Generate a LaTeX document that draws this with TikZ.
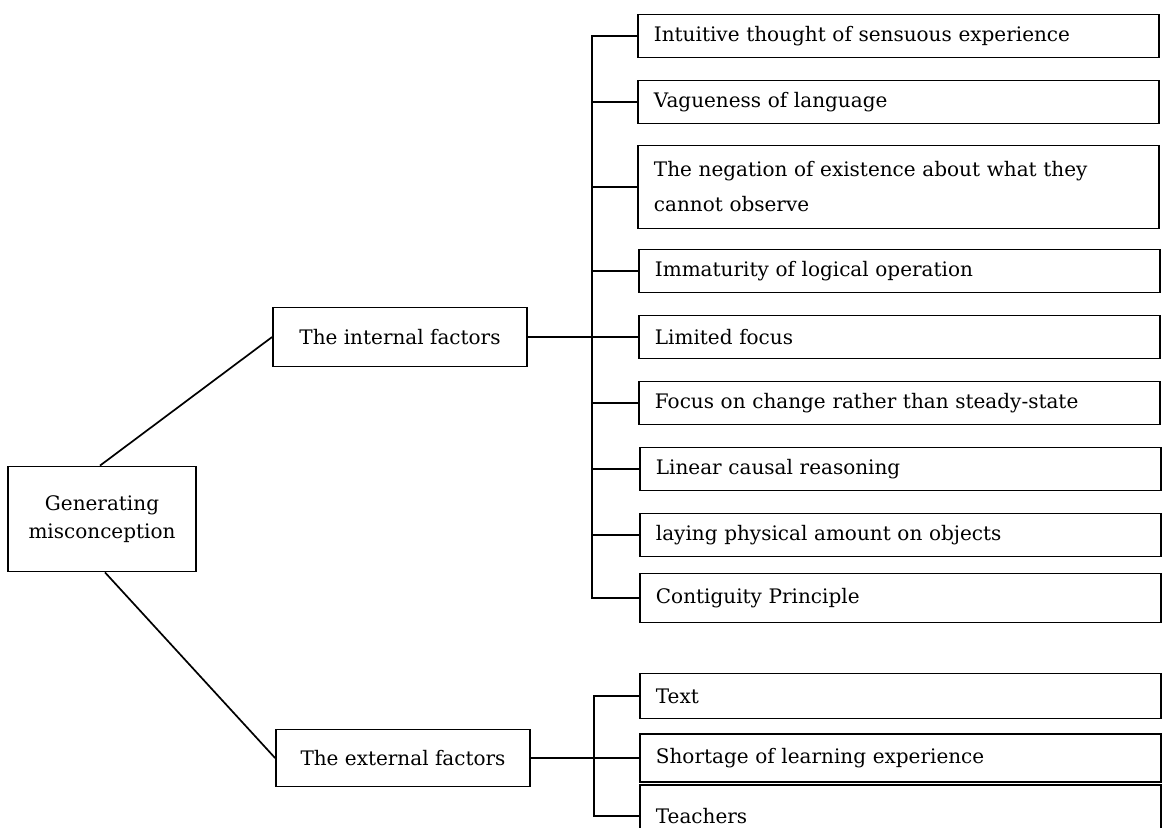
\documentclass[tikz,border=0pt]{standalone}
\usepackage{fontspec}
\setmainfont{DejaVu Serif}
\begin{document}
\begin{tikzpicture}[x=1pt,y=-1pt,
  every node/.style={font=\fontsize{20}{35}\selectfont},
  box/.style={draw, line width=1.8pt, inner sep=0pt},
  leaf/.style={box, anchor=west, minimum width=521, minimum height=43,
    inner xsep=16pt, text width=489, align=left},
  link/.style={line width=1.7pt}]
\clip (0,0) rectangle (1166,827);

% root and the two groups
\node[box, minimum width=188, minimum height=105, align=center,
      font=\fontsize{20}{28}\selectfont] (gen) at (102,519)
  {Generating\\misconception};
\node[box, minimum width=254, minimum height=59] (int) at (400,337) {The internal factors};
\node[box, minimum width=254, minimum height=57] (ext) at (403,758) {The external factors};

% internal factors
\node[leaf] (i1) at (637,36)  {Intuitive thought of sensuous experience};
\node[leaf] (i2) at (637,102) {Vagueness of language};
\node[leaf, minimum height=83] (i3) at (637,187)
  {The negation of existence about what they\\cannot observe};
\node[leaf] (i4) at (638,271) {Immaturity of logical operation};
\node[leaf] (i5) at (638,337) {Limited focus};
\node[leaf] (i6) at (638,403) {Focus on change rather than steady-state};
\node[leaf] (i7) at (639,469) {Linear causal reasoning};
\node[leaf] (i8) at (639,535) {laying physical amount on objects};
\node[leaf, minimum height=49] (i9) at (639,598) {Contiguity Principle};

% external factors
\node[leaf, minimum height=45] (e1) at (639,696) {Text};
\node[leaf, minimum height=48] (e2) at (639,758) {Shortage of learning experience};
\node[leaf, minimum height=62] (e3) at (639,816) {Teachers};

\coordinate (ibus) at (592,0);
\coordinate (ebus) at (594,0);

% connectors from the root
\draw[link] (gen.north) ++(-2,0) -- (int.west);
\draw[link] (gen.south) ++(3,0) -- (ext.west);

% internal bus
\draw[link] (int.east) -- (i5.west);
\draw[link] (i1.west) -- (ibus |- i1.west) -- (ibus |- i9.west) -- (i9.west);
\foreach \n in {i2,i3,i4,i6,i7,i8}
  \draw[link] (ibus |- \n.west) -- (\n.west);

% external bus
\draw[link] (ext.east) -- (e2.west);
\draw[link] (e1.west) -- (ebus |- e1.west) -- (ebus |- e3.west) -- (e3.west);
\end{tikzpicture}
\end{document}
